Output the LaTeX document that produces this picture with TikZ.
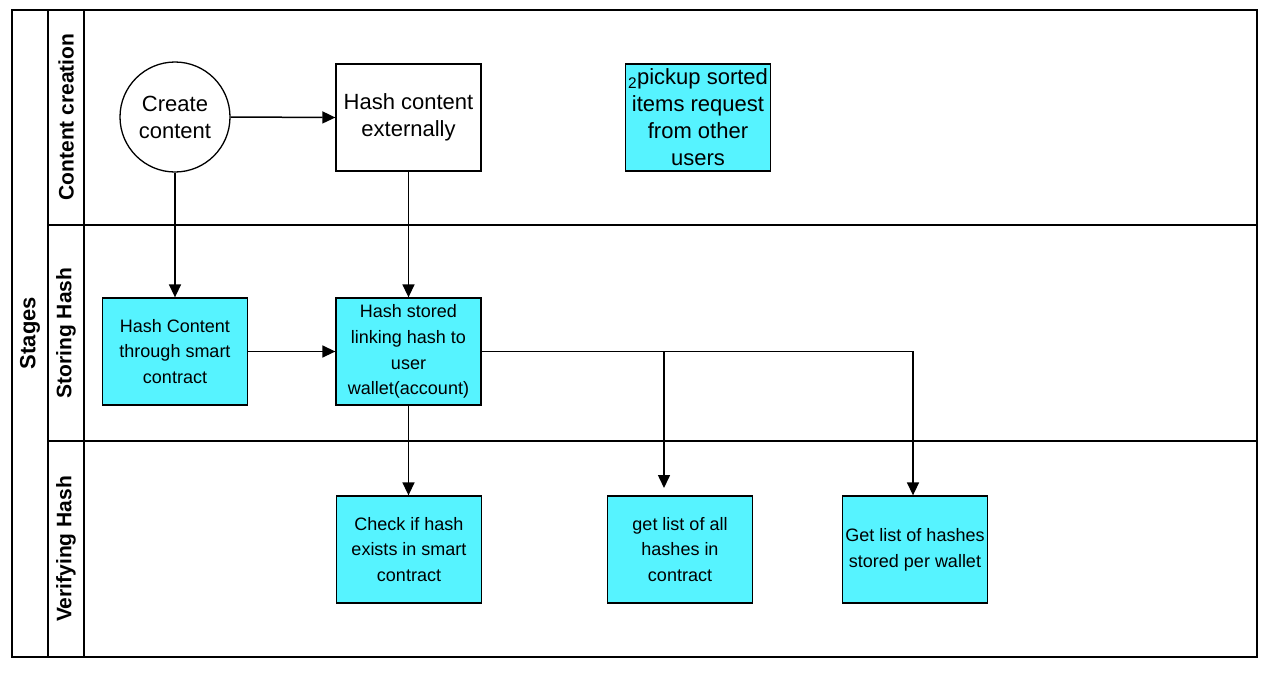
\documentclass[tikz,border=0pt]{standalone}
\usepackage{fontspec}
\setmainfont{Liberation Sans}
\usetikzlibrary{arrows.meta, positioning}

\definecolor{boxcyan}{RGB}{86,243,255}

\tikzset{
  stepbox/.style={draw, line width=1.3pt, fill=boxcyan, minimum width=145pt, minimum height=107pt, align=center, inner sep=1pt, font=\fontsize{18}{25.7}\selectfont},
  plainbox/.style={draw, line width=1.3pt, fill=white, minimum width=145pt, minimum height=107pt, align=center, inner sep=1pt, font=\fontsize{22}{27}\selectfont},
  lanelabel/.style={rotate=90, font=\fontsize{21}{24}\selectfont\bfseries},
  pfeil/.style={-{Triangle[width=12pt,length=13pt]}, line width=1.5pt}
}

\begin{document}
\begin{tikzpicture}[x=1pt, y=-1pt]
\useasboundingbox (0,0) rectangle (1276,673);

% Rahmen und Bahnen
\draw[line width=1.5pt] (12,10) rectangle (1257,657);
\draw[line width=1.5pt] (48,10) -- (48,657);
\draw[line width=1.5pt] (84,10) -- (84,657);
\draw[line width=1.5pt] (48,225) -- (1257,225);
\draw[line width=1.5pt] (48,441) -- (1257,441);

\node[lanelabel, font=\fontsize{22}{24}\selectfont\bfseries] (stages) at (30,333) {Stages};
\node[lanelabel] (lane1) at (66,117) {Content creation};
\node[lanelabel] (lane2) at (66,333) {Storing Hash};
\node[lanelabel] (lane3) at (66,549) {Verifying Hash};

% Knoten
\node[draw, circle, line width=1.3pt, minimum size=110pt, inner sep=1pt, align=center, font=\fontsize{22}{27}\selectfont] (create) at (175,117) {Create\\content};
\node[plainbox] (external) at (408.5,117.5) {Hash content\\externally};
\node[stepbox, font=\fontsize{22}{27}\selectfont] (pickup) at (698,117.5) {\textsubscript{2}pickup sorted\\items request\\from other\\users};

\node[stepbox] (hashsmart) at (175,351.5) {Hash Content\\through smart\\contract};
\node[stepbox] (stored) at (408.5,351.5) {Hash stored\\linking hash to\\user\\wallet(account)};

\node[stepbox] (check) at (409,549.5) {Check if hash\\exists in smart\\contract};
\node[stepbox] (listall) at (680,549.5) {get list of all\\hashes in\\contract};
\node[stepbox] (listwallet) at (915,549.5) {Get list of hashes\\stored per wallet};

% Hilfspunkte
\coordinate (B1) at (664,351.5);
\coordinate (B2) at (913,351.5);
\coordinate (E1) at (664,488);

% Verbindungen
\draw[pfeil] (create.east) -- (external.west);
\draw[pfeil] (create.south) -- (hashsmart.north);
\draw[pfeil] (external.south) -- (external.south |- stored.north);
\draw[pfeil] (hashsmart.east) -- (stored.west);
\draw[pfeil] (stored.south) -- (stored.south |- check.north);
\draw[line width=1.5pt] (stored.east) -- (B1);
\draw[pfeil] (B1) -- (E1);
\draw[pfeil] (B1) -- (B2) -- (B2 |- listwallet.north);

\end{tikzpicture}
\end{document}
